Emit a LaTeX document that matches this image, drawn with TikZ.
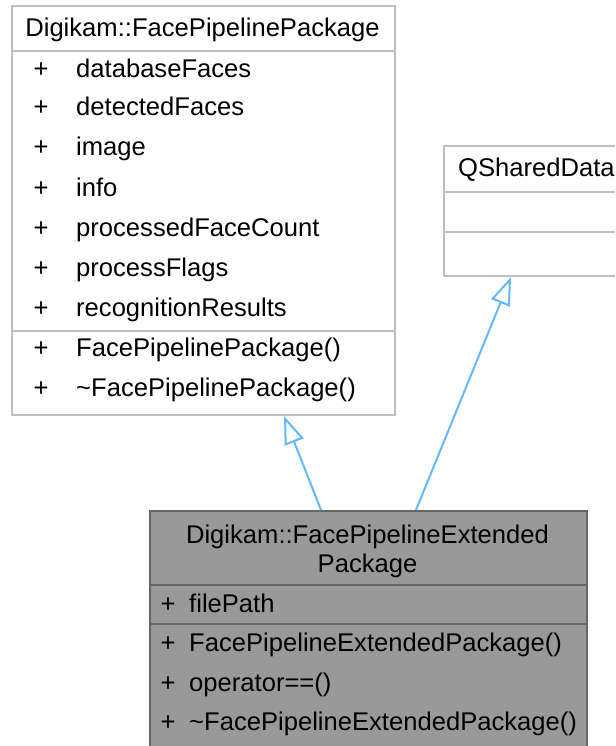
\documentclass[tikz,border=0pt]{standalone}
\usepackage{fontspec}
\setmainfont{Liberation Sans}
\usetikzlibrary{arrows.meta,positioning,calc}
\definecolor{clsedge}{RGB}{191,191,191}
\definecolor{curfill}{RGB}{153,153,153}
\definecolor{curedge}{RGB}{102,102,102}
\definecolor{inherit}{RGB}{99,184,255}
\newcommand{\umlfont}{\fontsize{25.6}{29}\selectfont}
\tikzset{
  clsbox/.style={draw=clsedge,fill=white,line width=2pt,inner sep=0pt,
                 anchor=north west},
  curbox/.style={clsbox,draw=curedge,fill=curfill},
  sepl/.style={draw=clsedge,line width=2pt},
  sepc/.style={sepl,draw=curedge},
  ttl/.style={anchor=base,inner sep=0pt,font=\umlfont},
  ttlw/.style={anchor=base west,inner sep=0pt,font=\umlfont},
  vis/.style={anchor=base,inner sep=0pt,font=\umlfont},
  mbr/.style={anchor=base west,inner sep=0pt,font=\umlfont},
  gen/.style={-{Triangle[length=28pt,width=20pt,fill=white]},
              draw=inherit,line width=2pt},
}

\begin{document}
\begin{tikzpicture}[x=1pt,y=-1pt]

  \useasboundingbox (0,0) rectangle (615,746);
  \clip (0,0) rectangle (615,746);

  % --- FacePipelinePackage ------------------------------------------------
  \node[clsbox,minimum width=383pt,minimum height=409pt] (pkg) at (11,5) {};
  \draw[sepl] ([yshift=-46pt]pkg.north west) -- ([yshift=-46pt]pkg.north east);
  \draw[sepl] ([yshift=-326pt]pkg.north west) -- ([yshift=-326pt]pkg.north east);
  \node[ttl] (pkgttl) at (202.5,37) {Digikam::FacePipelinePackage};
  \foreach \y/\txt [count=\i] in {78/databaseFaces,116/detectedFaces,156/image,
      196/info,236/processedFaceCount,276/processFlags,316/recognitionResults,
      356/FacePipelinePackage(),396/\textasciitilde FacePipelinePackage()} {
    \node[vis] (pkgvis\i) at (41,\y) {+};
    \node[mbr] (pkgmbr\i) at (76,\y) {\txt};
  }

  % --- QSharedData --------------------------------------------------------
  \node[clsbox,minimum width=184pt,minimum height=130pt] (shd) at (443,145) {};
  \draw[sepl] ([yshift=-47pt]shd.north west) -- ([yshift=-47pt]shd.north east);
  \draw[sepl] ([yshift=-87pt]shd.north west) -- ([yshift=-87pt]shd.north east);
  \node[ttlw] (shdttl) at (458,176) {QSharedData};

  % --- FacePipelineExtendedPackage ----------------------------------------
  \node[curbox,minimum width=437pt,minimum height=240pt] (ext) at (149,510) {};
  \draw[sepc] ([yshift=-75pt]ext.north west) -- ([yshift=-75pt]ext.north east);
  \draw[sepc] ([yshift=-114pt]ext.north west) -- ([yshift=-114pt]ext.north east);
  \node[ttl] (extttla) at (367.5,543) {Digikam::FacePipelineExtended};
  \node[ttl] (extttlb) at (367.5,572) {Package};
  \foreach \y/\txt [count=\i] in {612/filePath,651/FacePipelineExtendedPackage(),
      691/operator==(),730/\textasciitilde FacePipelineExtendedPackage()} {
    \node[vis] (extvis\i) at (168,\y) {+};
    \node[mbr] (extmbr\i) at (189,\y) {\txt};
  }

  % --- generalisation -----------------------------------------------------
  \draw[gen] ([xshift=-47.5pt]ext.north) -- ([xshift=80.5pt]pkg.south);
  \draw[gen] ([xshift=47.5pt]ext.north) -- ([xshift=-25pt]shd.south);

\end{tikzpicture}
\end{document}
